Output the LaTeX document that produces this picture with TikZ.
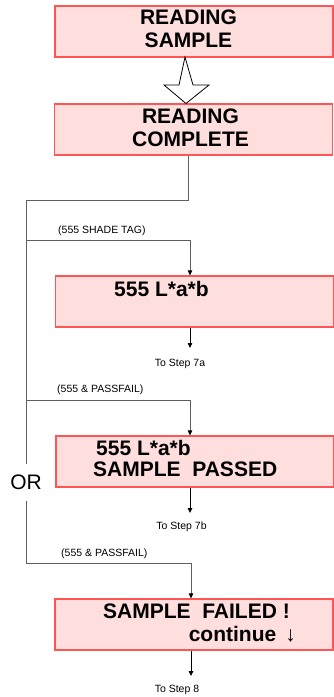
\documentclass[tikz,border=0pt]{standalone}
\usepackage{fontspec}
\setmainfont{Liberation Sans}
\usetikzlibrary{arrows.meta}
\definecolor{boxfill}{RGB}{255,222,222}
\definecolor{boxline}{RGB}{255,85,85}
\definecolor{wire}{RGB}{95,95,95}
\begin{document}
\begin{tikzpicture}[x=1pt,y=-1pt,
 box/.style={draw=boxline,fill=boxfill,line width=1.2pt,rectangle,inner sep=0,minimum width=278pt,minimum height=51pt},
 bigtxt/.style={font=\bfseries\fontsize{21}{23}\selectfont,inner sep=0,align=center},
 small/.style={font=\fontsize{10.5}{12}\selectfont,inner sep=0},
 wireline/.style={draw=wire,line width=1pt},
 tip/.style={-{Triangle[length=5pt,width=4.5pt,color=black]}},
 arr/.style={draw=black,line width=0.8pt,-{Triangle[length=5pt,width=4.5pt]}}]
\useasboundingbox (0,0) rectangle (334,697);

% boxes
\node[box] (b1) at (194,31.5) {};
\node[box] (b2) at (193.5,129.5) {};
\node[box] (b3) at (194.5,301.5) {};
\node[box] (b4) at (195,461.5) {};
\node[box] (b5) at (194,624.5) {};

% block arrow between first two boxes
\draw[fill=white,line width=0.8pt] (185,57) -- (193,85) -- (209,85) -- (186,103.5) -- (164,85) -- (179,85) -- cycle;

% box texts
\node[bigtxt] (t1) at (188.5,28.7) {READING\\SAMPLE};
\node[bigtxt] (t2) at (190.5,127.5) {READING\\COMPLETE};
\node[bigtxt,anchor=base west] (t3) at (114,296.5) {555 L*a*b};
\node[bigtxt,anchor=base west] (t4a) at (96,455) {555 L*a*b};
\node[bigtxt,anchor=base west] (t4b) at (93,476.7) {SAMPLE\ \ PASSED};
\node[bigtxt,anchor=base east] (t5a) at (290,618.3) {SAMPLE\ \ FAILED !};
\node[bigtxt,anchor=base east] (t5b) at (296,641) {continue\hspace{9pt}{\mdseries ↓}};

% small labels
\node[small,anchor=base west] (l1) at (58,233.5) {(555 SHADE TAG)};
\node[small,anchor=base] (s7a) at (180,366.5) {To Step 7a};
\node[small,anchor=base west] (l2) at (57,392.5) {(555 \& PASSFAIL)};
\node[small,anchor=base] (s7b) at (181.5,529) {To Step 7b};
\node[small,anchor=base west] (l3) at (61,556) {(555 \& PASSFAIL)};
\node[small,anchor=base] (s8) at (177,692.5) {To Step 8};
\node[font=\fontsize{21}{23}\selectfont,inner xsep=0,inner ysep=11pt] (or) at (26,482.5) {OR};

% routing
\coordinate (j0) at (188,200);
\coordinate (j1) at (26,200);
\coordinate (j2) at (26,563);
\coordinate (a3) at (190,348);
\coordinate (a4) at (190,513);
\coordinate (a5) at (191,676);

\draw[wireline] ([xshift=-5.5pt]b2.south) -- (j0) -- (j1) -- (or.north);
\draw[wireline,tip] (26,240.7) -- (190,240.7) -- ([xshift=-4.5pt]b3.north);
\draw[wireline,tip] (26,400) -- (190,400) -- ([xshift=-5pt]b4.north);
\draw[wireline,tip] (or.south) -- (j2) -- (191,563) -- ([xshift=-3pt]b5.north);

\draw[arr] ([xshift=-4.5pt]b3.south) -- (a3);
\draw[arr] ([xshift=-5pt]b4.south) -- (a4);
\draw[arr] ([xshift=-3pt]b5.south) -- (a5);
\end{tikzpicture}
\end{document}
